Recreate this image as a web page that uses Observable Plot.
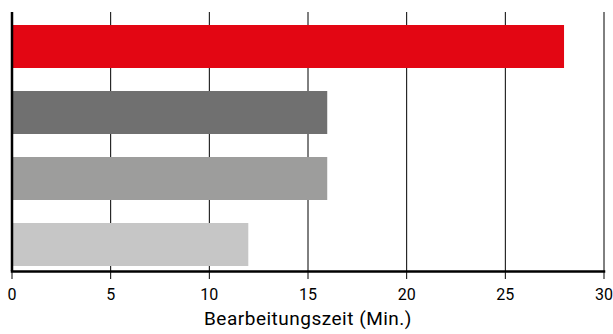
<!DOCTYPE html>
<html>
<head>
<meta charset="utf-8">
<script src="https://cdn.jsdelivr.net/npm/d3@7"></script>
<script src="https://cdn.jsdelivr.net/npm/@observablehq/plot@0.6"></script>
<style>
  html, body { margin: 0; padding: 0; background: #fff; }
  svg { display: block; }
  g[aria-label="text"] text { letter-spacing: 0.5px; }
</style>
</head>
<body>
<div id="chart"></div>
<script>
const categories = ["1", "2", "3", "4"];
const values = [28, 16, 16, 12];
const colors = ["#E30613", "#707070", "#9D9D9C", "#C6C6C6"];
const xTicks = [0, 5, 10, 15, 20, 25, 30];
const xLabel = "Bearbeitungszeit (Min.)";

const data = categories.map((c, i) => ({cat: c, value: values[i], color: colors[i]}));

const chart = Plot.plot({
  width: 613,
  height: 334,
  marginTop: 12,
  marginBottom: 63,
  marginLeft: 11.5,
  marginRight: 9.5,
  style: {fontFamily: "Roboto", fontSize: "16px", color: "#000", background: "#fff"},
  x: {domain: [0, 30]},
  y: {domain: categories, range: [23, 268], paddingInner: 0.343, paddingOuter: 0, axis: null},
  marks: [
    Plot.gridX(xTicks, {stroke: "#000", strokeOpacity: 1, strokeWidth: 1}),
    Plot.barX(data, {x: "value", y: "cat", fill: "color"}),
    Plot.ruleX([0], {stroke: "#000", strokeWidth: 2.5}),
    Plot.frame({anchor: "bottom", stroke: "#000", strokeWidth: 2.5}),
    Plot.axisX(xTicks, {tickSize: 8, tickPadding: 9, label: null, stroke: "#000", fill: "#000", fontSize: 16}),
    Plot.text([xLabel], {frameAnchor: "bottom", dy: 53, text: d => d, fontSize: 19, fill: "#000"})
  ]
});
document.getElementById("chart").appendChild(chart);
</script>
</body>
</html>
